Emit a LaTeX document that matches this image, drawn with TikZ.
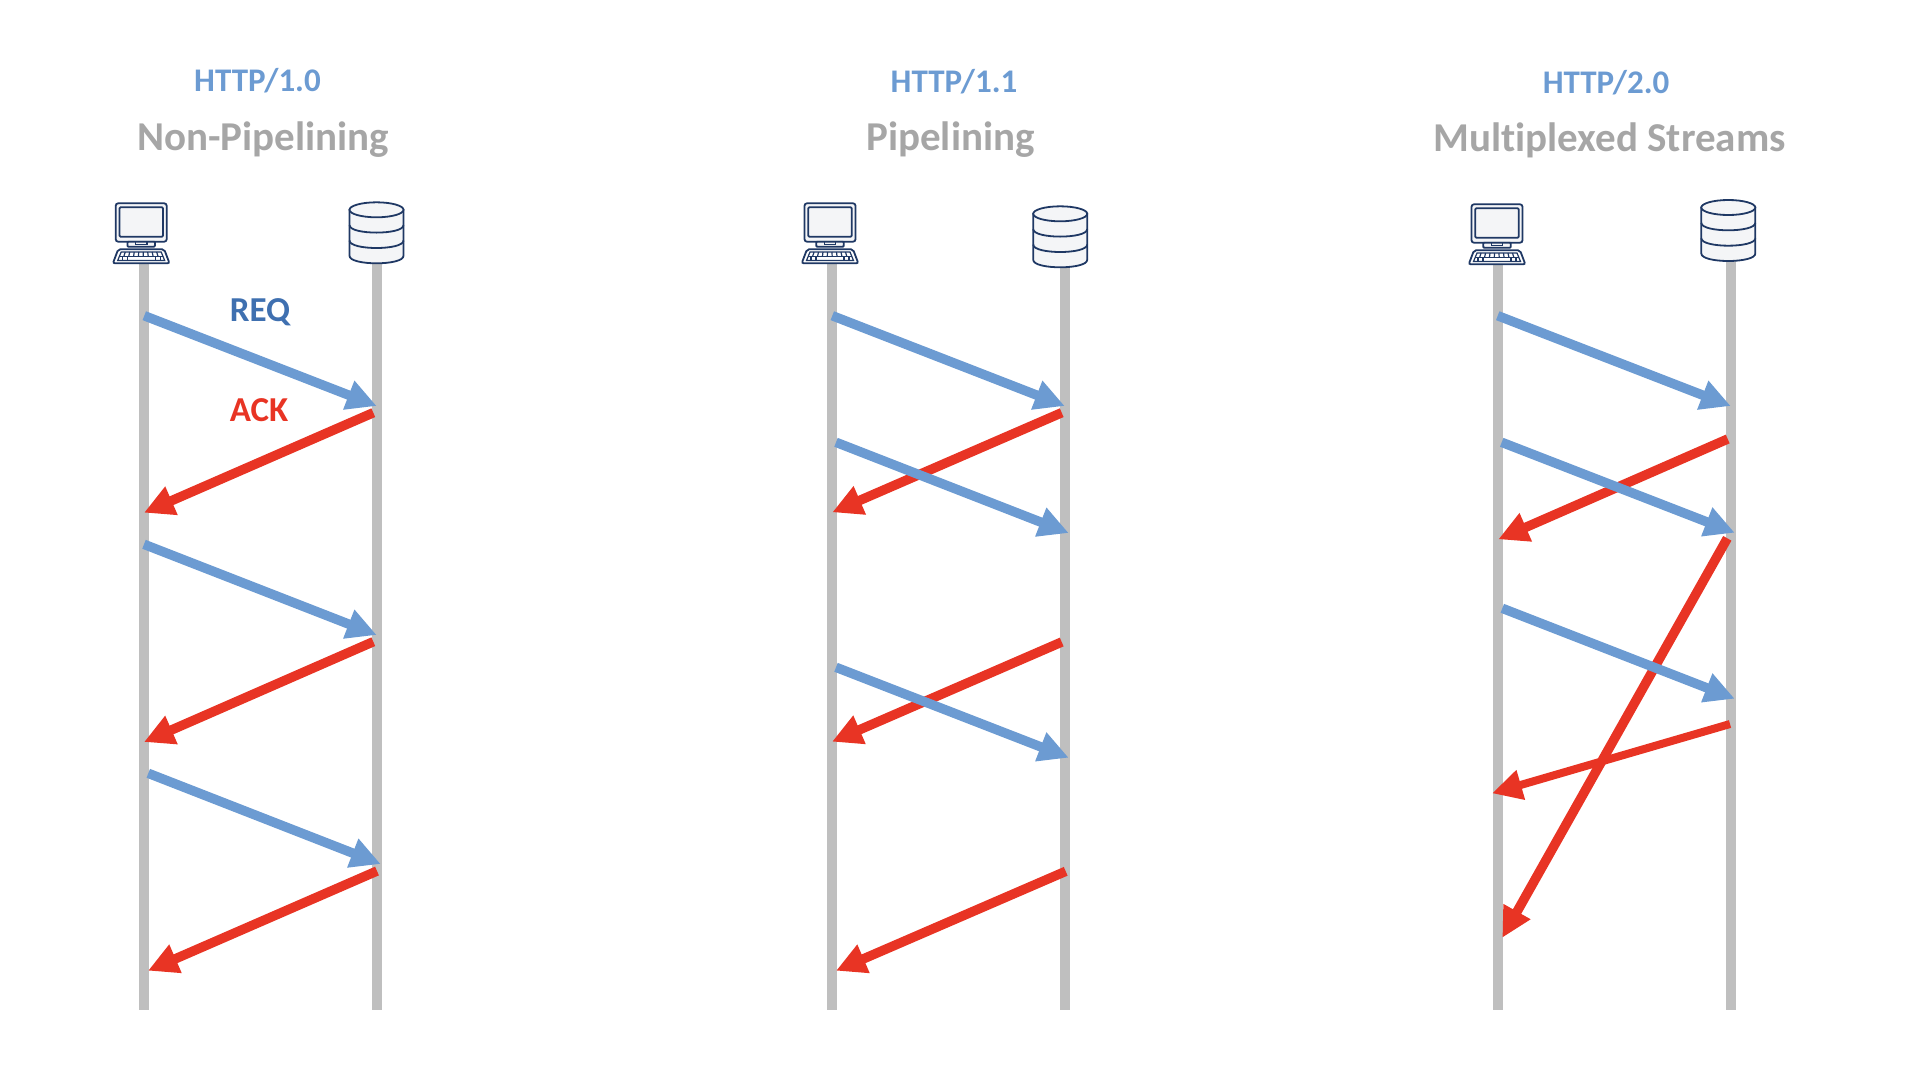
\documentclass[tikz,border=0pt]{standalone}
\usepackage{fontspec}
\setmainfont[Ligatures=NoCommon]{Carlito}
\usetikzlibrary{arrows.meta}
\definecolor{reqblue}{HTML}{6C9BD2}
\definecolor{reqdark}{HTML}{3F70B0}
\definecolor{ackred}{HTML}{E83424}
\definecolor{lifegray}{HTML}{BFBFBF}
\definecolor{titlegray}{HTML}{A6A6A6}
\definecolor{iconline}{HTML}{1F3864}
\definecolor{iconfill}{HTML}{F4F5F7}
\tikzset{
  lifeline/.style = {lifegray, line width=10pt},
  reqedge/.style  = {reqblue, line width=9.5pt, -{Triangle[length=30pt,width=29pt]}},
  ackedge/.style  = {ackred,  line width=9.5pt, -{Triangle[length=30pt,width=29pt]}},
  verlbl/.style   = {font=\fontsize{33}{33}\selectfont\bfseries, text=reqblue, anchor=base, inner sep=0pt},
  namelbl/.style  = {font=\fontsize{41}{41}\selectfont\bfseries, text=titlegray, anchor=base, inner sep=0pt},
  edgelbl/.style  = {font=\fontsize{35}{35}\selectfont\bfseries, anchor=base, inner sep=0pt},
  iconpart/.style = {draw=iconline, fill=iconfill, line width=1.8pt},
  computer/.pic = {
    \draw[iconpart, rounded corners=2.5pt] (-25.5,-29.7) rectangle (25.5,8.7);
    \draw[iconpart, rounded corners=1pt] (-21.7,-25.7) rectangle (21.7,3.7);
    \draw[iconpart, rounded corners=1pt] (-13.8,8.7) rectangle (13.8,13.7);
    \draw[iconline, line width=1.2pt] (-5.8,8.7) -- (-5.8,11.2) -- (5.8,11.2) -- (5.8,8.7);
    \draw[iconpart, rounded corners=2pt, fill=white] (-23,16.3) -- (23,16.3) -- (28.3,30.3) -- (-28.3,30.3) -- cycle;
    \draw[iconline, line width=1.2pt] (-20,19) -- (20,19) -- (23.5,27.5) -- (-23.5,27.5) -- cycle;
    \draw[iconline, line width=1.2pt] (-21.8,23.2) -- (21.8,23.2);
    \foreach \k in {-16,-11.5,-7,-2.5,2,6.5,11,15.5}
      \draw[iconline, line width=1.2pt] (\k,19) -- (\k*1.08,23.2);
    \foreach \k in {-19,-14,14,19}
      \draw[iconline, line width=1.2pt] (\k,23.2) -- (\k,27.5);
  },
  database/.pic = {
    \draw[iconpart] (-27,0) -- (-27,46) .. controls (-27,56) and (27,56) .. (27,46) -- (27,0) -- cycle;
    \draw[iconpart] (-27,30.7) .. controls (-27,40.7) and (27,40.7) .. (27,30.7);
    \draw[iconpart, fill=none] (-27,15.3) .. controls (-27,25.3) and (27,25.3) .. (27,15.3);
    \draw[iconpart] (0,0) ellipse [x radius=27, y radius=7.5];
  },
}
\begin{document}
\begin{tikzpicture}[x=1pt, y=-1pt]
  \useasboundingbox (0,0) rectangle (1910,1074);
  % lifelines
  \foreach \name/\lx in {cA/144,sA/377,cB/832,sB/1065,cC/1498,sC/1731} {
    \coordinate (\name top) at (\lx,250);
    \coordinate (\name end) at (\lx,1009.5);
    \draw[lifeline] (\name top) -- (\name end);
  }
  \pic at (141.2,233) {computer};
  \pic at (830,233) {computer};
  \pic at (1497,234) {computer};
  \pic at (376.5,209.8) {database};
  \pic at (1060.2,213.8) {database};
  \pic at (1728.3,207.5) {database};
  % acknowledgements
  \foreach \name/\sx/\sy/\tx/\ty in {
      aA/373.3/412.7/144/512.7, aB/373.3/641.7/144/742, aC/377/871/148/970.7,
      aD/1061.7/412.7/832.3/512.3, aE/1061.7/642/832/741.7, aF/1065.7/871.3/836/970.7,
      aG/1727.7/439/1498.3/539.3, aH/1727.3/538.3/1502.3/937.7} {
    \coordinate (\name s) at (\sx,\sy);
    \coordinate (\name t) at (\tx,\ty);
    \draw[ackedge] (\name s) -- (\name t);
  }
  \coordinate (aIs) at (1730,724);
  \coordinate (aIt) at (1492,793.3);
  \draw[ackedge, line width=8pt] (aIs) -- (aIt);
  % requests
  \foreach \name/\sx/\sy/\tx/\ty in {
      rA/144.3/315.7/376.7/406, rB/144/544.3/376.7/635, rC/148.3/773.3/380.7/864,
      rD/832.3/315.7/1064.7/406, rE/836/442.3/1068.7/533, rF/836/667.3/1068.7/757.7,
      rG/1497.7/315.7/1730.7/406, rH/1501.7/442.3/1734.7/532.7, rI/1502.3/608.3/1734.7/698.7} {
    \coordinate (\name s) at (\sx,\sy);
    \coordinate (\name t) at (\tx,\ty);
    \draw[reqedge] (\name s) -- (\name t);
  }
  \node[verlbl]  (verA)  at (257.5,91) {HTTP/1.0};
  \node[namelbl] (nameA) at (263,150) {Non-Pipelining};
  \node[verlbl]  (verB)  at (954,92) {HTTP/1.1};
  \node[namelbl] (nameB) at (950.5,150) {Pipelining};
  \node[verlbl]  (verC)  at (1606,93) {HTTP/2.0};
  \node[namelbl] (nameC) at (1609.5,151) {Multiplexed Streams};
  \node[edgelbl, text=reqdark] (reqlbl) at (260,321.5) {REQ};
  \node[edgelbl, text=ackred]  (acklbl) at (259,421) {ACK};
\end{tikzpicture}
\end{document}
